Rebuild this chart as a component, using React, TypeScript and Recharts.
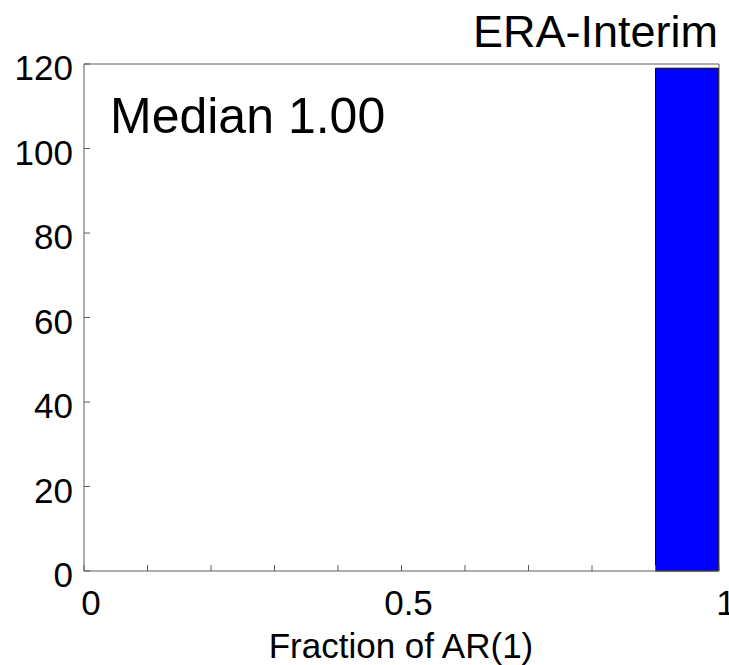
import React from 'react';
import { ComposedChart, Bar, XAxis, YAxis } from 'recharts';

// histogram of AR(1) fraction, 10 bins of width 0.1
const BIN_CENTERS = [0.05, 0.15, 0.25, 0.35, 0.45, 0.55, 0.65, 0.75, 0.85, 0.95];
const COUNTS = [0, 0, 0, 0, 0, 0, 0, 0, 0, 119];
const X_TICKS = [0, 0.1, 0.2, 0.3, 0.4, 0.5, 0.6, 0.7, 0.8, 0.9, 1];
const X_LABELED = [0, 0.5, 1];
const Y_TICKS = [0, 20, 40, 60, 80, 100, 120];

const data = BIN_CENTERS.map((bin, i) => ({ bin, count: COUNTS[i] }));

const FONT = '"Liberation Sans", Arial, sans-serif';
const AXIS = '#5a5a5a';

const XTick = (props: any) => {
  const { payload } = props;
  if (!X_LABELED.includes(payload.value)) return null;
  return (
    <text x={payload.coordinate + 7} y={615} textAnchor="middle" fontSize={35} fontFamily={FONT} fill="#000">
      {String(payload.value)}
    </text>
  );
};

const YTick = (props: any) => {
  const { payload } = props;
  return (
    <text x={73} y={payload.coordinate + 16} textAnchor="end" fontSize={35} fontFamily={FONT} fill="#000">
      {String(payload.value)}
    </text>
  );
};

export default function App() {
  return (
    <div style={{ position: 'absolute', left: 0, top: 0, width: 729, height: 665, background: '#fff', fontFamily: FONT }}>
      <ComposedChart
        width={729}
        height={665}
        data={data}
        margin={{ top: 0, right: 0, bottom: 0, left: 0 }}
        barCategoryGap={0}
        barGap={0}
      >
        <XAxis
          xAxisId="frac"
          dataKey="bin"
          type="number"
          domain={[0, 1]}
          ticks={X_TICKS}
          allowDataOverflow
          height={94}
          tickSize={-6}
          tick={<XTick />}
          interval={0}
          axisLine={{ stroke: AXIS }}
          tickLine={{ stroke: AXIS }}
        />
        <XAxis
          xAxisId="top"
          dataKey="bin"
          orientation="top"
          type="number"
          domain={[0, 1]}
          ticks={X_TICKS}
          allowDataOverflow
          height={64}
          tickSize={-6}
          tick={false}
          interval={0}
          axisLine={{ stroke: AXIS }}
          tickLine={{ stroke: AXIS }}
        />
        <YAxis
          yAxisId="count"
          type="number"
          domain={[0, 120]}
          ticks={Y_TICKS}
          width={84}
          tickSize={-6}
          tick={<YTick />}
          interval={0}
          axisLine={{ stroke: AXIS }}
          tickLine={{ stroke: AXIS }}
        />
        <YAxis
          yAxisId="right"
          orientation="right"
          width={10}
          tick={false}
          tickLine={false}
          axisLine={{ stroke: AXIS }}
        />
        <Bar
          xAxisId="frac"
          yAxisId="count"
          dataKey="count"
          fill="#0000ff"
          stroke="#000"
          strokeWidth={1}
          isAnimationActive={false}
        />
      </ComposedChart>
      <div style={{ position: 'absolute', right: 11, top: 47 - 38, fontSize: 45, lineHeight: '45px', color: '#000', whiteSpace: 'nowrap' }}>
        ERA-Interim
      </div>
      <div style={{ position: 'absolute', left: 110, top: 133 - 42, fontSize: 50, lineHeight: '50px', color: '#000', whiteSpace: 'nowrap' }}>
        Median 1.00
      </div>
      <div style={{ position: 'absolute', left: 0, width: 802, textAlign: 'center', top: 658 - 30, fontSize: 35, lineHeight: '35px', color: '#000', whiteSpace: 'nowrap' }}>
        Fraction of AR(1)
      </div>
    </div>
  );
}
